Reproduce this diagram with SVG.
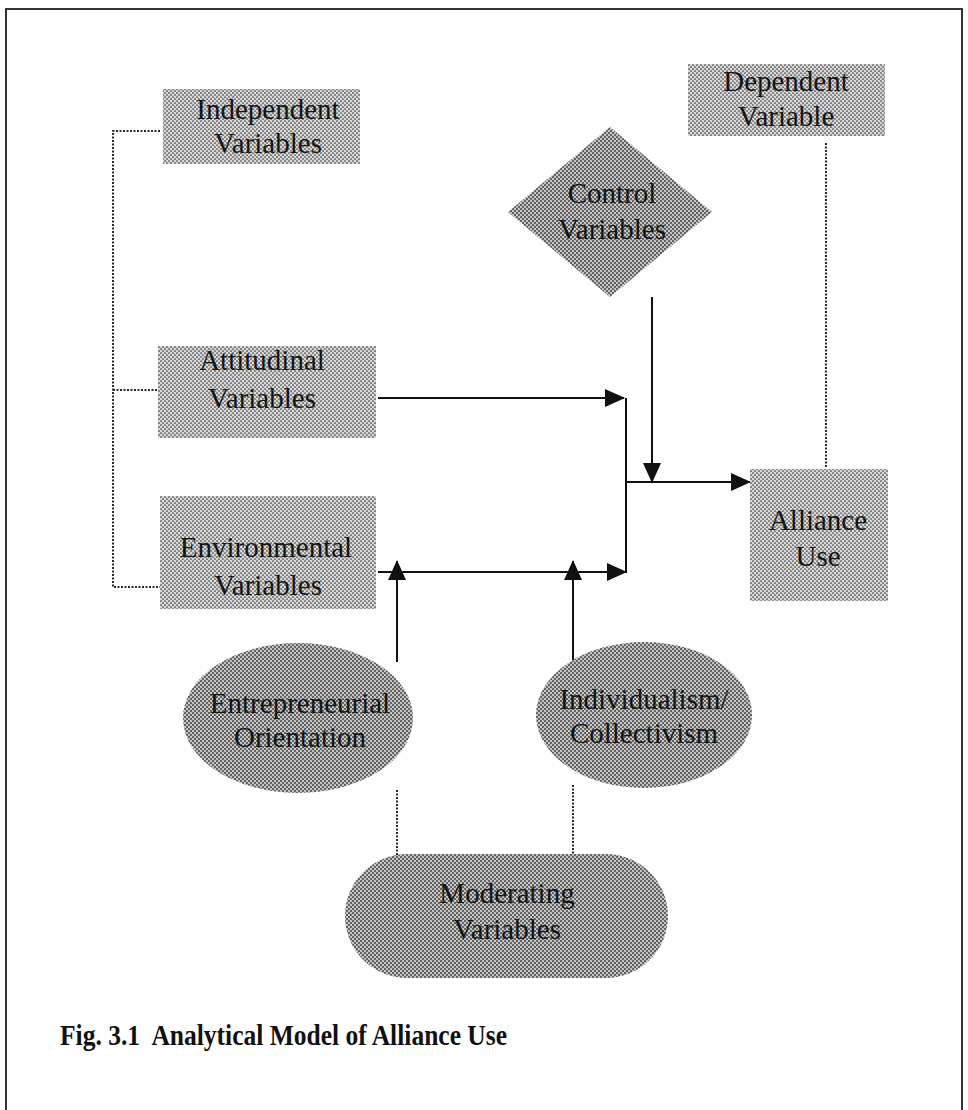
<svg xmlns="http://www.w3.org/2000/svg" width="968" height="1110" viewBox="0 0 968 1110">
  <defs>
    <pattern id="dotL" width="4" height="4" patternUnits="userSpaceOnUse">
      <rect width="4" height="4" fill="#d6d6d6"/>
      <circle cx="1" cy="1" r="0.85" fill="#404040"/>
      <circle cx="3" cy="3" r="0.85" fill="#404040"/>
    </pattern>
    <pattern id="dotD" width="4" height="4" patternUnits="userSpaceOnUse">
      <rect width="4" height="4" fill="#c4c4c4"/>
      <circle cx="1" cy="1" r="0.95" fill="#3a3a3a"/>
      <circle cx="3" cy="3" r="0.95" fill="#3a3a3a"/>
    </pattern>
    <marker id="ahB" viewBox="0 0 20 18" refX="19" refY="9" markerWidth="20" markerHeight="18" markerUnits="userSpaceOnUse" orient="auto">
      <path d="M0,0 L20,9 L0,18 Z" fill="#111"/>
    </marker>
  </defs>
  <style>
    .lbl { font-family: "Liberation Serif", "Times New Roman", serif; font-size: 29px; fill: #141414; text-anchor: middle; }
    .cap { font-family: "Liberation Serif", "Times New Roman", serif; font-size: 29px; font-weight: bold; fill: #111; }
    .solid { stroke: #111; stroke-width: 2; fill: none; }
    .dot { stroke: #2a2a2a; stroke-width: 2; stroke-dasharray: 2 1.5; fill: none; }
    .frame { stroke: #333; stroke-width: 2; fill: none; }
  </style>

  <g id="frame">
    <path class="frame" d="M6,1110 L6,9 L962,9 L962,1110"/>
  </g>

  <g id="connectors">
    <path class="dot" d="M160,131 L113,131 L113,587 L160,587"/>
    <path class="dot" d="M113,390 L157,390"/>
    <path class="dot" d="M826,143 L826,468"/>
    <path class="dot" d="M397,790 L397,855"/>
    <path class="dot" d="M573,785 L573,855"/>
    <line class="solid" x1="378" y1="398" x2="624" y2="398" marker-end="url(#ahB)"/>
    <line class="solid" x1="378" y1="572" x2="626" y2="572" marker-end="url(#ahB)"/>
    <line class="solid" x1="626" y1="398" x2="626" y2="573"/>
    <line class="solid" x1="626" y1="482" x2="750" y2="482" marker-end="url(#ahB)"/>
    <line class="solid" x1="652" y1="297" x2="652" y2="482" marker-end="url(#ahB)"/>
    <line class="solid" x1="397" y1="662" x2="397" y2="561" marker-end="url(#ahB)"/>
    <line class="solid" x1="573" y1="660" x2="573" y2="561" marker-end="url(#ahB)"/>
  </g>

  <g id="independent">
    <rect x="163" y="89" width="197" height="75" fill="url(#dotL)"/>
    <text class="lbl" x="268" y="119">Independent</text>
    <text class="lbl" x="268" y="153">Variables</text>
  </g>

  <g id="dependent">
    <rect x="688" y="64" width="197" height="72" fill="url(#dotL)"/>
    <text class="lbl" x="786" y="91">Dependent</text>
    <text class="lbl" x="786" y="126">Variable</text>
  </g>

  <g id="control">
    <polygon points="610,127 712,212 610,297 508,212" fill="url(#dotD)"/>
    <text class="lbl" x="612" y="203">Control</text>
    <text class="lbl" x="612" y="239">Variables</text>
  </g>

  <g id="attitudinal">
    <rect x="158" y="346" width="218" height="92" fill="url(#dotL)"/>
    <text class="lbl" x="262" y="370">Attitudinal</text>
    <text class="lbl" x="262" y="408">Variables</text>
  </g>

  <g id="environmental">
    <rect x="160" y="496" width="216" height="113" fill="url(#dotL)"/>
    <text class="lbl" x="266" y="557">Environmental</text>
    <text class="lbl" x="268" y="595">Variables</text>
  </g>

  <g id="alliance">
    <rect x="750" y="469" width="138" height="132" fill="url(#dotL)"/>
    <text class="lbl" x="818" y="530">Alliance</text>
    <text class="lbl" x="818" y="566">Use</text>
  </g>

  <g id="entrepreneurial">
    <ellipse cx="298" cy="718" rx="115" ry="75" fill="url(#dotD)"/>
    <text class="lbl" x="300" y="713">Entrepreneurial</text>
    <text class="lbl" x="300" y="747">Orientation</text>
  </g>

  <g id="individualism">
    <ellipse cx="644" cy="715" rx="108" ry="73" fill="url(#dotD)"/>
    <text class="lbl" x="644" y="709">Individualism/</text>
    <text class="lbl" x="644" y="743">Collectivism</text>
  </g>

  <g id="moderating">
    <rect x="345" y="854" width="323" height="124" rx="62" ry="62" fill="url(#dotD)"/>
    <text class="lbl" x="507" y="903">Moderating</text>
    <text class="lbl" x="507" y="939">Variables</text>
  </g>

  <g id="caption">
    <text class="cap" x="60" y="1045" textLength="447" lengthAdjust="spacingAndGlyphs" xml:space="preserve">Fig. 3.1  Analytical Model of Alliance Use</text>
  </g>
</svg>
